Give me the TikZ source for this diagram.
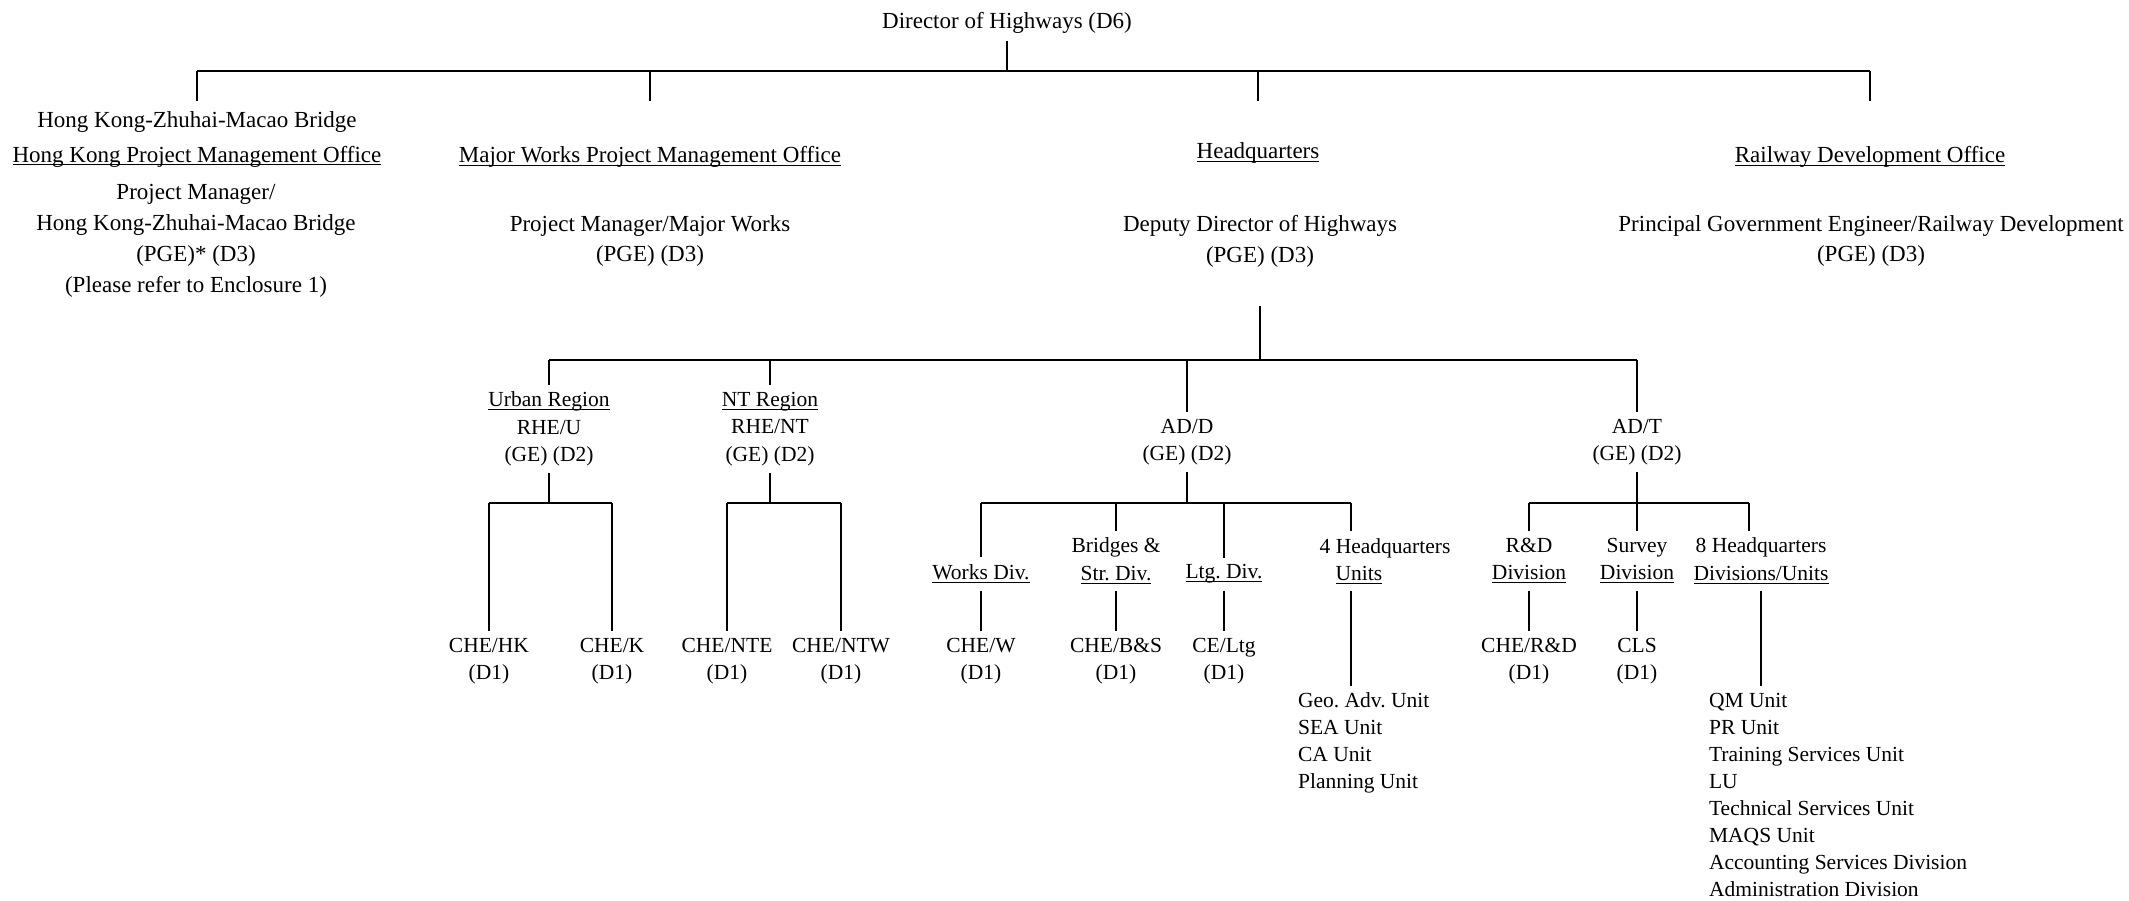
\documentclass[tikz,border=0pt]{standalone}
\usepackage{fontspec}
\setmainfont{Liberation Serif}
\usetikzlibrary{calc}

% underline that sits just under the baseline
\newcommand{\uln}[1]{\underline{\smash{#1}}\vphantom{#1}}

\tikzset{
  post/.style={align=center, font=\fontsize{10.75pt}{13.75pt}\selectfont},
  head/.style={align=center, font=\fontsize{11.5pt}{15.4pt}\selectfont},
  office/.style={align=center, font=\fontsize{11.5pt}{17.5pt}\selectfont},
  unitlist/.style={align=left, anchor=north west, font=\fontsize{10.75pt}{13.5pt}\selectfont},
  link/.style={draw=black, line width=0.7pt}
}

\begin{document}
\frenchspacing
\begin{tikzpicture}[x=0.5pt, y=-0.5pt]
  \useasboundingbox (0,0) rectangle (2129,900);

  % levels of the bars
  \coordinate (bar0) at (0,71);
  \coordinate (drop0) at (0,101);
  \coordinate (ddhs) at (0,306);
  \coordinate (bar1) at (0,360);
  \coordinate (bar2) at (0,503);

  % top
  \node[head] (dh) at (1007,23) {Director of Highways (D6)};

  \node[office] (hzmbo) at (197,139) {Hong Kong-Zhuhai-Macao Bridge\\\uln{Hong Kong Project Management Office}};
  \node[head] (hzmbpm) at (196,241) {Project Manager/\\Hong Kong-Zhuhai-Macao Bridge\\(PGE)* (D3)\\(Please refer to Enclosure 1)};
  \node[head] (mwo) at (650,157) {\uln{Major Works Project Management Office}};
  \node[head] (mwpm) at (650,241) {Project Manager/Major Works\\(PGE) (D3)};
  \node[head] (hq) at (1258,153) {\uln{Headquarters}};
  \node[head] (ddh) at (1260,241) {Deputy Director of Highways\\(PGE) (D3)};
  \node[head] (rdo) at (1870,157) {\uln{Railway Development Office}};
  \node[head] (pgerd) at (1871,241) {Principal Government Engineer/Railway Development\\(PGE) (D3)};

  % regions and assistant directors
  \node[post] (ur) at (549,429) {\uln{Urban Region}\\RHE/U\\(GE) (D2)};
  \node[post] (nt) at (770,429) {\uln{NT Region}\\RHE/NT\\(GE) (D2)};
  \node[post] (add) at (1187,442) {AD/D\\(GE) (D2)};
  \node[post] (adt) at (1637,442) {AD/T\\(GE) (D2)};

  % divisions
  \node[post] (works) at (981,574) {\uln{Works Div.}};
  \node[post] (bridges) at (1116,561) {Bridges \&\\\uln{Str. Div.}};
  \node[post] (ltg) at (1224,574) {\uln{Ltg. Div.}};
  \node[post] (hq4) at (1385,548) {4 Headquarters};
  \node[post] (hq4u) at (1359,575) {\uln{Units}};
  \node[post] (rnd) at (1529,561) {R\&D\\\uln{Division}};
  \node[post] (survey) at (1637,561) {Survey\\\uln{Division}};
  \node[post] (hq8) at (1761,561) {8 Headquarters\\\uln{Divisions/Units}};

  % chief engineers
  \node[post] (chehk) at (489,661) {CHE/HK\\(D1)};
  \node[post] (chek) at (612,661) {CHE/K\\(D1)};
  \node[post] (chente) at (727,661) {CHE/NTE\\(D1)};
  \node[post] (chentw) at (841,661) {CHE/NTW\\(D1)};
  \node[post] (chew) at (981,661) {CHE/W\\(D1)};
  \node[post] (chebs) at (1116,661) {CHE/B\&S\\(D1)};
  \node[post] (celtg) at (1224,661) {CE/Ltg\\(D1)};
  \node[post] (chernd) at (1529,661) {CHE/R\&D\\(D1)};
  \node[post] (cls) at (1637,661) {CLS\\(D1)};

  \node[unitlist] (hq4list) at (1291,686) {Geo. Adv. Unit\\SEA Unit\\CA Unit\\Planning Unit};
  \node[unitlist] (hq8list) at (1702,686) {QM Unit\\PR Unit\\Training Services Unit\\LU\\Technical Services Unit\\MAQS Unit\\Accounting Services Division\\Administration Division};

  % top bar
  \draw[link] (dh.south) -- (dh |- bar0);
  \draw[link] (hzmbo |- bar0) -- (rdo |- bar0);
  \foreach \n in {hzmbo,mwo,hq,rdo}
    \draw[link] (\n |- bar0) -- (\n |- drop0);

  % headquarters bar
  \draw[link] (ddh |- ddhs) -- (ddh |- bar1);
  \draw[link] (ur |- bar1) -- (adt |- bar1);
  \foreach \n in {ur,nt,add,adt}
    \draw[link] (\n |- bar1) -- (\n.north);

  % regions
  \draw[link] (ur.south) -- (ur |- bar2);
  \draw[link] (chehk |- bar2) -- (chek |- bar2);
  \draw[link] (nt.south) -- (nt |- bar2);
  \draw[link] (chente |- bar2) -- (chentw |- bar2);
  \foreach \n in {chehk,chek,chente,chentw}
    \draw[link] (\n |- bar2) -- (\n.north);

  % AD/D
  \draw[link] (add.south) -- (add |- bar2);
  \draw[link] (works |- bar2) -- ($(hq4u |- bar2)+(-8,0)$);
  \foreach \n in {works,bridges,ltg}
    \draw[link] (\n |- bar2) -- (\n.north);
  \draw[link] ($(hq4u |- bar2)+(-8,0)$) -- ($(hq4u |- hq4.north)+(-8,0)$);
  \draw[link] (works.south) -- (chew.north);
  \draw[link] (bridges.south) -- (chebs.north);
  \draw[link] (ltg.south) -- (celtg.north);
  \draw[link] ($(hq4u.south)+(-8,0)$) -- ($(hq4u |- hq4list.north)+(-8,0)$);

  % AD/T
  \draw[link] (adt.south) -- (survey.north);
  \draw[link] (rnd |- bar2) -- ($(hq8 |- bar2)+(-12,0)$);
  \draw[link] (rnd |- bar2) -- (rnd.north);
  \draw[link] ($(hq8 |- bar2)+(-12,0)$) -- ($(hq8.north)+(-12,0)$);
  \draw[link] (rnd.south) -- (chernd.north);
  \draw[link] (survey.south) -- (cls.north);
  \draw[link] (hq8.south) -- (hq8 |- hq8list.north);
\end{tikzpicture}
\end{document}
